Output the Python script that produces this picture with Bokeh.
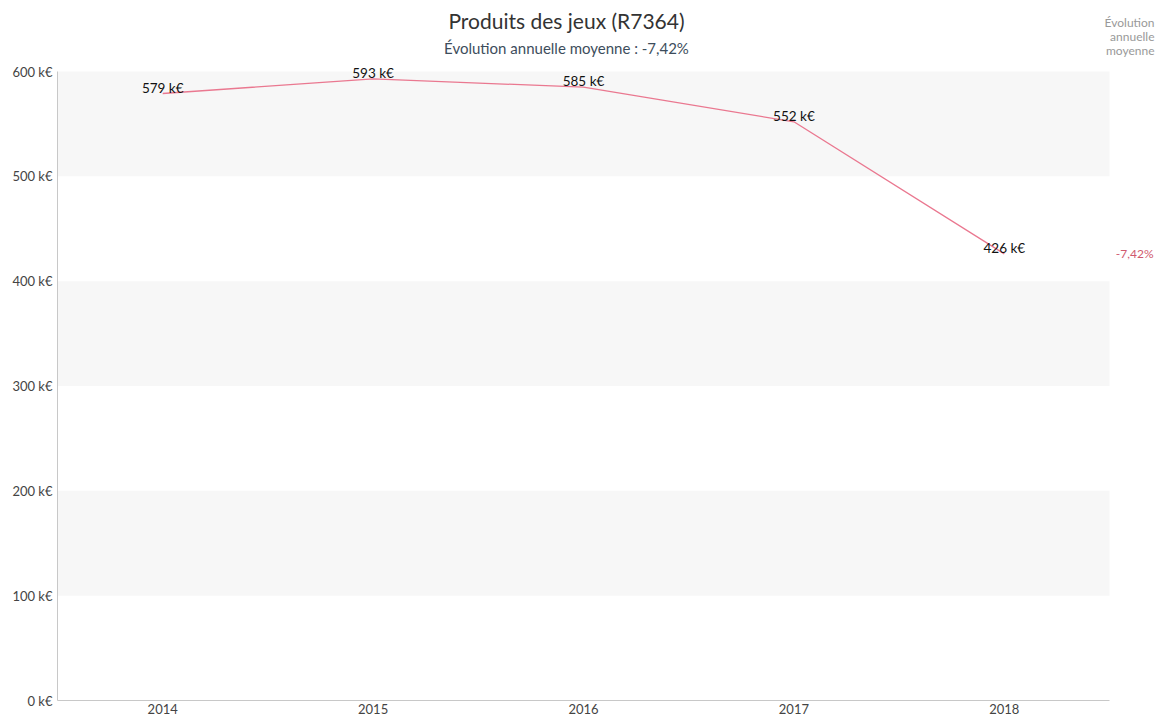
from bokeh.plotting import figure
from bokeh.models import ColumnDataSource, PrintfTickFormatter, Range1d, FixedTicker
from bokeh.embed import file_html
from bokeh.resources import INLINE
from bokeh.core.properties import value

years = ["2014", "2015", "2016", "2017", "2018"]
values_k = [579, 593, 585, 552, 426]
labels = [f"{v} k€" for v in values_k]
y_ticks = [0, 100, 200, 300, 400, 500, 600]
title_text = "Produits des jeux (R7364)"
subtitle_text = "Évolution annuelle moyenne : -7,42%"
side_header = ["Évolution", "annuelle", "moyenne"]
side_value = "-7,42%"

FONT = "Lato"
LINE = "#ea7890"

# geometry of the canvas (pixels)
W, H = 1166, 717
LEFT, BOTTOM_PX, TOP_PX = 57, 700, 71          # frame left, y of value 0, y of value 600
n = len(years)
ymax = y_ticks[-1]
px_per_unit = (BOTTOM_PX - TOP_PX) / ymax
px_per_cat = (1109 - LEFT) / n

def xd(px):
    return (px - LEFT) / px_per_cat

def yd(py):
    return ymax + (TOP_PX - py) / px_per_unit

xs = [i + 0.5 for i in range(n)]
src = ColumnDataSource(dict(x=xs, y=values_k, lab=labels))

p = figure(width=W, height=H, output_backend="svg", toolbar_location=None,
           x_range=Range1d(0, xd(W)), y_range=Range1d(0, yd(0)),
           min_border_left=LEFT, min_border_right=0, min_border_top=0,
           min_border_bottom=H - BOTTOM_PX)
p.outline_line_color = None
p.background_fill_color = "white"
p.border_fill_color = "white"
p.xgrid.visible = False
p.ygrid.visible = False

# alternating bands
p.quad(left=0, right=n, bottom=y_ticks[1:-1:2], top=y_ticks[2::2],
       fill_color="#f7f7f7", line_color=None)

p.yaxis.ticker = FixedTicker(ticks=y_ticks)
p.yaxis.formatter = PrintfTickFormatter(format="%d k€")
p.yaxis.bounds = (0, ymax)
p.xaxis.ticker = FixedTicker(ticks=xs)
p.xaxis.major_label_overrides = {x: y for x, y in zip(xs, years)}
p.xaxis.bounds = (0, n)
for ax in (p.xaxis[0], p.yaxis[0]):
    ax.axis_line_color = "#c8c8c8"
    ax.axis_line_width = 1
    ax.major_tick_line_color = None
    ax.minor_tick_line_color = None
    ax.major_tick_out = 0
    ax.major_tick_in = 0
    ax.minor_tick_out = 0
    ax.major_label_text_font = FONT
    ax.major_label_text_font_size = "13px"
    ax.major_label_text_color = "#444444"
p.yaxis.major_label_standoff = 5
p.xaxis.major_label_standoff = 3

p.line("x", "y", source=src, line_color=LINE, line_width=1.3)
p.text("x", "y", text="lab", source=src, text_font=value(FONT), text_font_size="13.5px",
       text_color="#111111", text_align="center", text_baseline="middle", y_offset=-6)

# titles and side annotation
p.text(x=[xd(566)], y=[yd(20)], text=[title_text], text_font=value(FONT),
       text_font_size="21px", text_color="#333333", text_align="center", text_baseline="middle")
p.text(x=[xd(566)], y=[yd(47)], text=[subtitle_text], text_font=value(FONT),
       text_font_size="15px", text_color="#3d4d5c", text_align="center", text_baseline="middle")
p.text(x=[xd(1154)] * 3, y=[yd(22), yd(36), yd(50)], text=side_header, text_font=value(FONT),
       text_font_size="12px", text_color="#999999", text_align="right", text_baseline="middle")
p.text(x=[xd(1153)], y=[yd(253)], text=[side_value], text_font=value(FONT),
       text_font_size="12px", text_color="#d05a6e", text_align="right", text_baseline="middle")

open("out.html", "w").write(file_html(p, INLINE))
